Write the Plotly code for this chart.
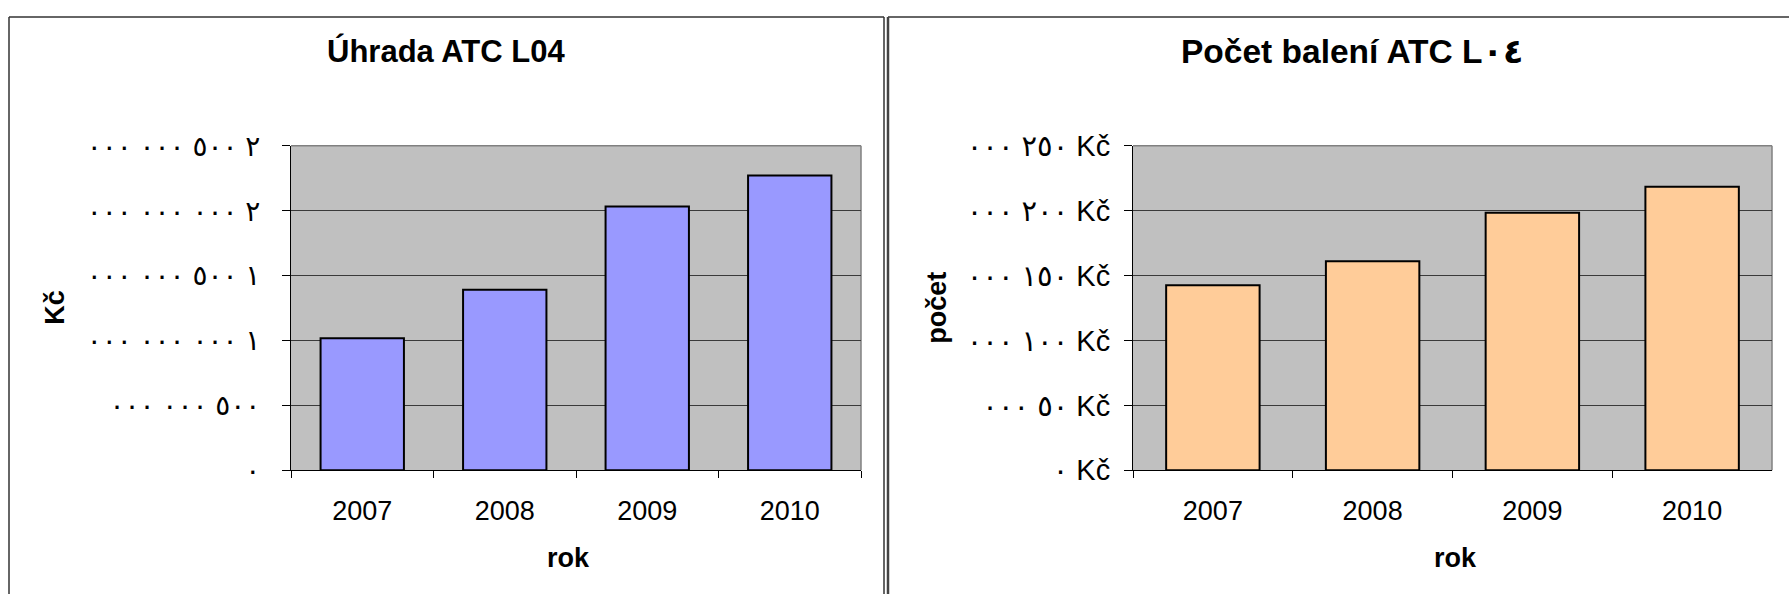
import plotly.graph_objects as go

W, H = 1789, 610

years = ["2007", "2008", "2009", "2010"]
uhrada = [1.017e9, 1.392e9, 2.033e9, 2.272e9]
pocet = [142500, 161000, 198500, 218500]

left_tickvals = [0, 5e8, 1e9, 1.5e9, 2e9, 2.5e9]
left_ticktext = ["٠", "٥٠٠ ٠٠٠ ٠٠٠", "١ ٠٠٠ ٠٠٠ ٠٠٠", "١ ٥٠٠ ٠٠٠ ٠٠٠",
                 "٢ ٠٠٠ ٠٠٠ ٠٠٠", "٢ ٥٠٠ ٠٠٠ ٠٠٠"]
right_tickvals = [0, 50000, 100000, 150000, 200000, 250000]
right_ticktext = ["٠ Kč", "٥٠ ٠٠٠ Kč", "١٠٠ ٠٠٠ Kč", "١٥٠ ٠٠٠ Kč",
                  "٢٠٠ ٠٠٠ Kč", "٢٥٠ ٠٠٠ Kč"]

title_left = "Úhrada ATC L04"
title_right = "Počet balení ATC L٠٤"
ytitle_left = "Kč"
ytitle_right = "počet"
xtitle = "rok"


def px(x):
    return x / W


def py(y):
    return 1 - y / H


FONT = "Arial, Liberation Sans, DejaVu Sans, sans-serif"

# plot areas in pixels
L = (291, 861)
R = (1133, 1772)
TOP, BOT = 137, 479.5

fig = go.Figure()
fig.add_trace(go.Bar(x=years, y=uhrada, xaxis="x", yaxis="y",
                     marker=dict(color="#9999FF", line=dict(color="#000000", width=2)),
                     hoverinfo="x+y"))
fig.add_trace(go.Bar(x=years, y=pocet, xaxis="x2", yaxis="y2",
                     marker=dict(color="#FFCC99", line=dict(color="#000000", width=2)),
                     hoverinfo="x+y"))

xcommon = dict(showgrid=False, showline=True, linecolor="#000000", linewidth=1,
               ticks="outside", tickson="boundaries", ticklen=7, tickcolor="#000000",
               tickfont=dict(family=FONT, size=27, color="#000000"),
               ticklabelstandoff=16, fixedrange=True)
ycommon = dict(showgrid=True, gridcolor="#3a3a3a", gridwidth=1, zeroline=False,
               showline=True, linecolor="#000000", linewidth=1,
               ticks="outside", ticklen=8, tickcolor="#000000",
               tickmode="array", fixedrange=True)

fig.update_layout(
    width=W, height=H,
    margin=dict(l=0, r=0, t=0, b=0),
    paper_bgcolor="#FFFFFF",
    plot_bgcolor="#C0C0C0",
    showlegend=False,
    bargap=0.415,
    xaxis=dict(domain=[px(L[0]), px(L[1])], anchor="y", **xcommon),
    yaxis=dict(domain=[py(BOT), py(TOP)], anchor="x", range=[0, 2.5e9],
               tickvals=left_tickvals, ticktext=left_ticktext,
               tickfont=dict(family=FONT, size=28, color="#000000"),
               ticklabelstandoff=16, **ycommon),
    xaxis2=dict(domain=[px(R[0]), px(R[1])], anchor="y2", **xcommon),
    yaxis2=dict(domain=[py(BOT), py(TOP)], anchor="x2", range=[0, 250000],
                tickvals=right_tickvals, ticktext=right_ticktext,
                tickfont=dict(family=FONT, size=29, color="#000000"),
                ticklabelstandoff=8, **ycommon),
)


def seg(x0, y0, x1, y1, color, width):
    return dict(type="line", xref="paper", yref="paper",
                x0=px(x0), x1=px(x1), y0=py(y0), y1=py(y1),
                line=dict(color=color, width=width), layer="below")


shapes = [
    # left panel frame (top, left, right) running to the bottom edge
    seg(9, 1, 884, 1, "#333333", 1.5),
    seg(9, 1, 9, 610, "#333333", 1.5),
    seg(884, 1, 884, 610, "#333333", 1.5),
    # right panel frame (top, left)
    seg(888, 1, 1789, 1, "#333333", 1.5),
    seg(888, 1, 888, 610, "#444444", 2.5),
]
# plot-area gray frames (top / right)
for (x0, x1) in (L, R):
    shapes.append(seg(x0, TOP, x1, TOP, "#808080", 1.5))
    shapes.append(seg(x1, TOP, x1, BOT, "#808080", 1.5))
fig.update_layout(shapes=shapes)

ann = []
ann.append(dict(text="<b>%s</b>" % title_left, x=px(446), y=py(37), xref="paper", yref="paper",
                showarrow=False, xanchor="center", yanchor="middle",
                font=dict(family=FONT, size=31, color="#000000")))
ann.append(dict(text="<b>%s</b>" % title_right, x=px(1352), y=py(37), xref="paper", yref="paper",
                showarrow=False, xanchor="center", yanchor="middle",
                font=dict(family=FONT, size=33.5, color="#000000")))
ann.append(dict(text="<b>%s</b>" % xtitle, x=px(568), y=py(572), xref="paper", yref="paper",
                showarrow=False, xanchor="center", yanchor="middle",
                font=dict(family=FONT, size=27, color="#000000")))
ann.append(dict(text="<b>%s</b>" % xtitle, x=px(1455), y=py(572), xref="paper", yref="paper",
                showarrow=False, xanchor="center", yanchor="middle",
                font=dict(family=FONT, size=27, color="#000000")))
ann.append(dict(text="<b>%s</b>" % ytitle_left, x=px(55), y=py(308), xref="paper", yref="paper",
                showarrow=False, xanchor="center", yanchor="middle", textangle=-90,
                font=dict(family=FONT, size=27, color="#000000")))
ann.append(dict(text="<b>%s</b>" % ytitle_right, x=px(937), y=py(308), xref="paper", yref="paper",
                showarrow=False, xanchor="center", yanchor="middle", textangle=-90,
                font=dict(family=FONT, size=27, color="#000000")))
fig.update_layout(annotations=ann)

fig.write_html("out.html", config={"displayModeBar": False},
               post_script="document.documentElement.style.margin='0';"
                           "document.body.style.margin='0';"
                           "document.body.style.overflow='hidden';")
